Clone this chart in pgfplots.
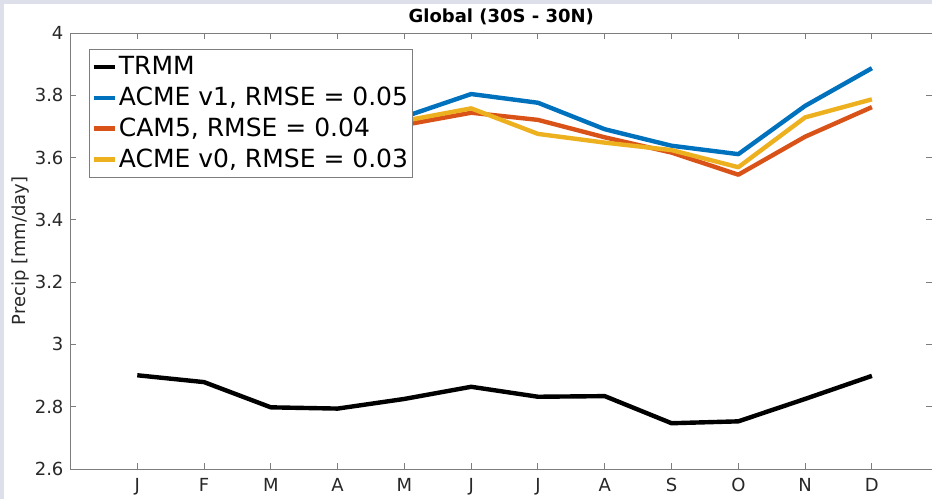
\documentclass[border=0pt]{standalone}
\usepackage{pgfplots}
\pgfplotsset{compat=1.18}
\usepackage{fontspec}
\setmainfont{DejaVu Sans}
\definecolor{mblue}{rgb}{0,0.447,0.741}
\definecolor{morange}{rgb}{0.85,0.325,0.098}
\definecolor{myellow}{rgb}{0.929,0.694,0.125}
\definecolor{bgstrip}{RGB}{221,224,234}
\definecolor{axgray}{RGB}{125,125,125}
\definecolor{txt}{RGB}{40,40,40}
\begin{document}
\begin{tikzpicture}
\fill[bgstrip] (-35.25pt,-15pt) rectangle (430.75pt,234.5pt);
\fill[white] (-33.25pt,-15pt) rectangle (430.75pt,232.5pt);
\begin{axis}[
  at={(0,0)}, anchor=south west,
  scale only axis,
  width=430.75pt, height=218pt,
  xmin=0, xmax=12.9,
  ymin=2.6, ymax=4,
  xtick={1,2,3,4,5,6,7,8,9,10,11,12},
  xticklabels={J,F,M,A,M,J,J,A,S,O,N,D},
  ytick={2.6,2.8,3,3.2,3.4,3.6,3.8,4},
  yticklabels={2.6,2.8,3,3.2,3.4,3.6,3.8,4},
  tick align=inside,
  major tick length=3pt,
  axis line style={axgray, line width=0.5pt},
  tick style={axgray, line width=0.5pt},
  every tick label/.append style={font=\fontsize{9}{11}\selectfont, text=txt},
  xticklabel style={yshift=-1pt},
  ylabel={Precip [mm/day]},
  ylabel style={font=\fontsize{9}{11}\selectfont, text=txt, at={(axis description cs:-0.058,0.5)}, anchor=center},
  title={\textbf{Global (30S - 30N)}},
  title style={font=\fontsize{9}{11}\selectfont, at={(axis description cs:0.5,1)}, anchor=center, yshift=2pt},
  legend style={at={(axis description cs:0.0215,0.963)}, anchor=north west,
    draw=axgray, line width=0.5pt, fill=white,
    font=\fontsize{12.5}{14.5}\selectfont, text=black,
    row sep=2.6pt, inner xsep=1pt, inner ysep=2.5pt,
    nodes={inner xsep=1pt, inner ysep=1pt},
    /tikz/every even column/.style={column sep=0pt}},
  legend cell align=left,
  legend image code/.code={\draw[#1, line width=2.2pt] (0pt,0pt) -- (10.5pt,0pt);},
  every axis plot/.append style={line width=2.2pt, line join=round},
]
\addplot[black] coordinates {
(1,2.901) (2,2.879) (3,2.798) (4,2.794) (5,2.825) (6,2.864)
(7,2.832) (8,2.834) (9,2.747) (10,2.753) (11,2.825) (12,2.899)};
\addplot[mblue] coordinates {
(1,3.85) (2,3.84) (3,3.78) (4,3.72) (5,3.731) (6,3.804)
(7,3.776) (8,3.691) (9,3.638) (10,3.611) (11,3.766) (12,3.887)};
\addplot[morange] coordinates {
(1,3.78) (2,3.79) (3,3.74) (4,3.70) (5,3.705) (6,3.744)
(7,3.721) (8,3.665) (9,3.616) (10,3.545) (11,3.667) (12,3.762)};
\addplot[myellow] coordinates {
(1,3.80) (2,3.81) (3,3.75) (4,3.71) (5,3.718) (6,3.758)
(7,3.676) (8,3.648) (9,3.624) (10,3.569) (11,3.729) (12,3.787)};
\legend{TRMM, {ACME v1, RMSE = 0.05}, {CAM5, RMSE = 0.04}, {ACME v0, RMSE = 0.03}}
\end{axis}
\pgfresetboundingbox
\path[use as bounding box] (-35.25pt,-15pt) rectangle (430.75pt,234.5pt);
\end{tikzpicture}
\end{document}
